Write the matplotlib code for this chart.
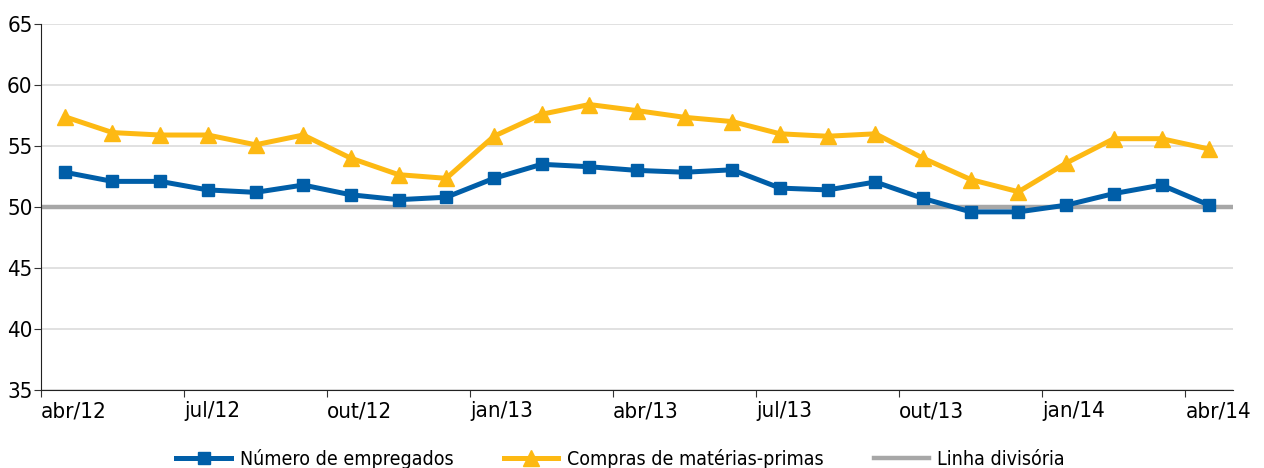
import matplotlib.pyplot as plt
import numpy as np

plt.rcParams['font.family'] = ['DejaVu Sans']
plt.rcParams['font.stretch'] = 'condensed'

# meses (abr/12 a abr/14)
meses = ['abr/12', 'mai/12', 'jun/12', 'jul/12', 'ago/12', 'set/12', 'out/12', 'nov/12', 'dez/12',
         'jan/13', 'fev/13', 'mar/13', 'abr/13', 'mai/13', 'jun/13', 'jul/13', 'ago/13', 'set/13',
         'out/13', 'nov/13', 'dez/13', 'jan/14', 'fev/14', 'mar/14', 'abr/14']
empregados = [52.85, 52.1, 52.1, 51.4, 51.2, 51.8, 51.0, 50.6, 50.8, 52.35, 53.5, 53.3, 53.0,
              52.85, 53.05, 51.55, 51.4, 52.05, 50.7, 49.6, 49.6, 50.15, 51.1, 51.8, 50.15]
materias = [57.4, 56.1, 55.9, 55.9, 55.1, 55.9, 54.0, 52.65, 52.35, 55.8, 57.6, 58.4, 57.9,
            57.35, 57.0, 56.0, 55.8, 56.0, 54.0, 52.25, 51.25, 53.6, 55.6, 55.6, 54.75]
tick_labels = ['abr/12', 'jul/12', 'out/12', 'jan/13', 'abr/13', 'jul/13', 'out/13', 'jan/14', 'abr/14']
linha_divisoria = 50

azul = '#005ea8'
amarelo = '#fdb913'
cinza = '#a7a7a7'

fig = plt.figure(figsize=(12.64, 4.68), dpi=100)
ax = fig.add_axes([0.0324, 0.1667, 0.9431, 0.782])

x = np.arange(len(meses))
ax.axhline(linha_divisoria, color=cinza, lw=3.2, zorder=2, label='Linha divisória')
ax.plot(x, empregados, color=azul, lw=3.6, marker='s', ms=9, zorder=4, label='Número de empregados')
ax.plot(x, materias, color=amarelo, lw=3.6, marker='^', ms=11, zorder=3, label='Compras de matérias-primas')

ax.set_xlim(-0.5, len(meses) - 0.5)
ax.set_ylim(35, 65)
ax.set_yticks(np.arange(35, 66, 5))
ax.set_xticks(np.arange(-0.5, len(meses), 3))
ax.set_xticklabels(tick_labels, ha='left')
ax.tick_params(axis='both', labelsize=16, length=5, width=0.8, color='#333333')
ax.tick_params(axis='y', pad=1)
ax.tick_params(axis='x', pad=3)
ax.grid(axis='y', color='#d9d9d9', lw=1.1, zorder=0)
ax.set_axisbelow(True)
for s in ['top', 'right']:
    ax.spines[s].set_visible(False)
ax.spines['left'].set_color('#222222')
ax.spines['bottom'].set_color('#222222')
ax.spines['left'].set_linewidth(0.8)
ax.spines['bottom'].set_linewidth(0.8)

h, l = ax.get_legend_handles_labels()
order = [1, 2, 0]
fig.legend([h[i] for i in order], [l[i] for i in order], loc='lower center',
           bbox_to_anchor=(0.491, -0.04), ncol=3, frameon=False, fontsize=14,
           handlelength=2.8, columnspacing=2.6, handletextpad=0.45)

plt.savefig('out.png', dpi=100)
